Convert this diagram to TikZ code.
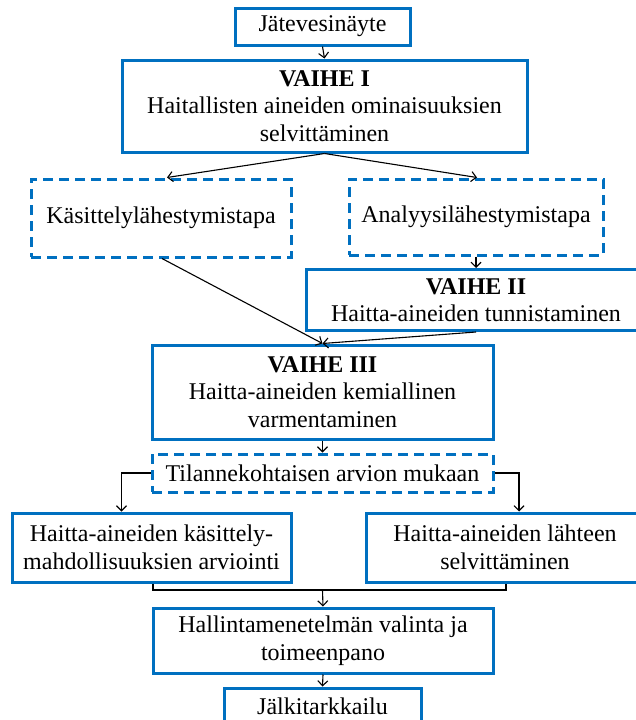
\documentclass[tikz,border=0pt]{standalone}
\usepackage{fontspec}
\setmainfont{Liberation Serif}
\usetikzlibrary{arrows.meta,positioning}
\definecolor{vaihesin}{RGB}{0,112,192}

\begin{document}
\begin{tikzpicture}[x=1pt,y=-1pt,
    laatikko/.style={draw=vaihesin,line width=3pt,inner sep=0pt,align=center,
        font=\fontsize{24}{27.5}\selectfont},
    katko/.style={laatikko,dash pattern=on 10pt off 6pt},
    nuoli/.style={->,>={Straight Barb[length=5pt,width=10pt]},line width=1.1pt}]
\useasboundingbox (0,0) rectangle (635,720);

\node[laatikko,minimum width=175pt,minimum height=37pt](jate) at (322.5,26.5){Jätevesinäyte};
\node[laatikko,minimum width=405pt,minimum height=92pt](vaihe1) at (324.5,106)
    {\textbf{VAIHE I}\\Haitallisten aineiden ominaisuuksien\\selvittäminen};
\node[katko,minimum width=260pt,minimum height=78pt](kasit) at (161,218){Käsittelylähestymistapa};
\node[katko,minimum width=254pt,minimum height=76pt](analyysi) at (476,217){Analyysilähestymistapa};
\node[laatikko,minimum width=340pt,minimum height=61pt](vaihe2) at (476,300)
    {\textbf{VAIHE II}\\Haitta-aineiden tunnistaminen};
\node[laatikko,minimum width=341pt,minimum height=94pt](vaihe3) at (322.5,392)
    {\textbf{VAIHE III}\\Haitta-aineiden kemiallinen\\varmentaminen};
\node[katko,minimum width=341pt,minimum height=38pt](tilanne) at (322.5,473){Tilannekohtaisen arvion mukaan};
\node[laatikko,minimum width=279pt,minimum height=69pt](kasittely) at (151.5,547.5)
    {Haitta-aineiden käsittely-\\mahdollisuuksien arviointi};
\node[laatikko,minimum width=278pt,minimum height=69pt](lahde) at (505,547.5)
    {Haitta-aineiden lähteen\\selvittäminen};
\node[laatikko,minimum width=340pt,minimum height=65pt](hallinta) at (323,640.5)
    {Hallintamenetelmän valinta ja\\toimeenpano};
\node[laatikko,minimum width=197pt,minimum height=36pt](jalki) at (322.5,706){Jälkitarkkailu};

\coordinate (yhdys) at (322.5,590);

\path[nuoli]
    (jate.south) edge (vaihe1.north)
    (vaihe1.south) edge ([xshift=6pt]kasit.north)
    (vaihe1.south) edge ([xshift=1pt]analyysi.north)
    (analyysi.south) edge (vaihe2.north)
    ([xshift=1pt]kasit.south) edge (vaihe3.north)
    (vaihe2.south) edge (vaihe3.north)
    (vaihe3.south) edge (tilanne.north)
    (yhdys) edge (hallinta.north)
    (hallinta.south) edge (jalki.north);

\draw[nuoli] (tilanne.west) -| ([xshift=-30pt]kasittely.north);
\draw[nuoli] (tilanne.east) -| ([xshift=14pt]lahde.north);
\draw[line width=1.1pt] ([xshift=1.5pt]kasittely.south) |- (yhdys) -| ([xshift=1pt]lahde.south);
\end{tikzpicture}
\end{document}
